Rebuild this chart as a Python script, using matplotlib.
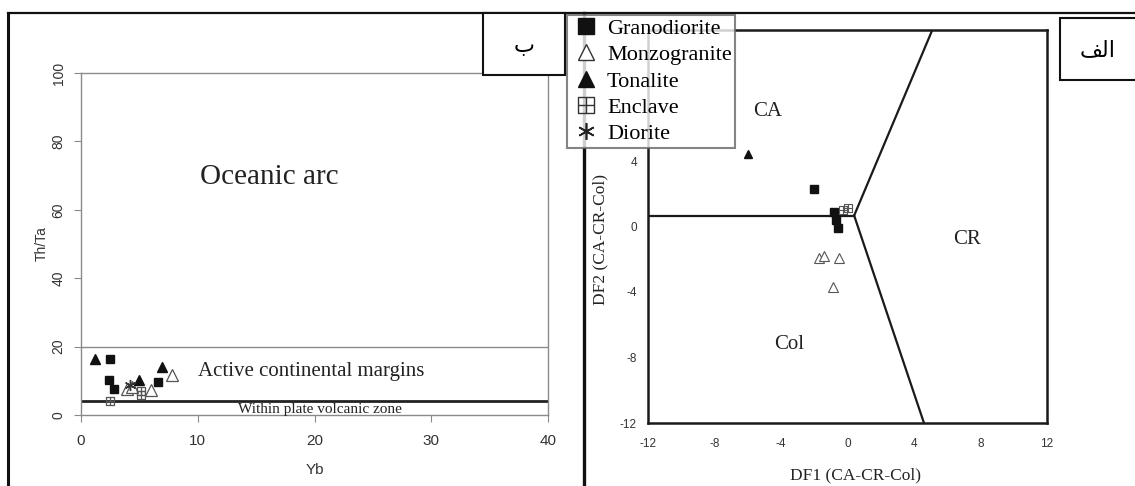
import numpy as np
import matplotlib.pyplot as plt
from matplotlib.lines import Line2D
from matplotlib.patches import Rectangle
from matplotlib.path import Path

# panel "ب": Th/Ta vs Yb
yb_grano = [2.5, 2.4, 2.8, 6.6]
thta_grano = [16.3, 10.2, 7.5, 9.6]
yb_monzo = [7.8, 3.9, 4.4, 6.0]
thta_monzo = [11.7, 7.5, 8.2, 7.3]
yb_tona = [1.2, 6.9, 5.0]
thta_tona = [16.3, 13.9, 10.2]
yb_encl = [2.5, 5.1, 5.1]
thta_encl = [4.1, 5.8, 7.0]
yb_dior = [4.2]
thta_dior = [8.8]

# panel "الف": DF1 vs DF2
df1_grano = [-2.0, -0.8, -0.7, -0.6]
df2_grano = [2.3, 0.9, 0.4, -0.1]
df1_monzo = [-1.7, -1.4, -0.5, -0.9]
df2_monzo = [-1.9, -1.8, -1.9, -3.7]
df1_tona = [-6.0]
df2_tona = [4.4]
df1_encl = [-0.25, 0.05]
df2_encl = [1.0, 1.15]

# field boundaries
thta_ocean_line = 20
thta_wpvz_line = 4
junction = (0.4, 0.67)
ca_cr_end = (5.1, 12)
col_cr_end = (4.6, -12)
ca_col_start = (-12, 0.67)

labels = ['Granodiorite', 'Monzogranite', 'Tonalite', 'Enclave', 'Diorite']
df1_ticks = [-12, -8, -4, 0, 4, 8, 12]
df2_ticks = [-12, -8, -4, 0, 4]   # 8 and 12 sit under the legend

plt.rcParams['axes.unicode_minus'] = False

W, H = 1135, 486
serif = 'Liberation Serif'
sans = 'Liberation Sans'

# square with a cross inside
enclave = Path([(-1, -1), (1, -1), (1, 1), (-1, 1), (-1, -1), (0, -1), (0, 1), (-1, 0), (1, 0)],
               [Path.MOVETO, Path.LINETO, Path.LINETO, Path.LINETO, Path.CLOSEPOLY,
                Path.MOVETO, Path.LINETO, Path.MOVETO, Path.LINETO])
asterisk = (6, 2, 0)

fig = plt.figure(figsize=(W / 100, H / 100), dpi=100)

# ---- left panel
ax1 = fig.add_axes([81 / W, 1 - 415 / H, 467 / W, 342 / H])
ax1.set_xlim(0, 40)
ax1.set_ylim(0, 100)
ax1.set_xticks([0, 10, 20, 30, 40])
ax1.set_yticks([0, 20, 40, 60, 80, 100])
for s in ax1.spines.values():
    s.set_color('#8a8a8a')
    s.set_linewidth(1)
ax1.tick_params(direction='out', length=5, color='#8a8a8a', labelcolor='#333333')
ax1.tick_params(axis='x', pad=9, labelsize=11)
ax1.tick_params(axis='y', pad=6, labelsize=10)
for t in ax1.get_yticklabels():
    t.set_rotation(90)
    t.set_va('center')
for t in ax1.get_xticklabels() + ax1.get_yticklabels():
    t.set_family(sans)
ax1.set_xlabel('Yb', family=sans, fontsize=11, color='#333333')
ax1.set_ylabel('Th/Ta', family=sans, fontsize=10, color='#333333')
ax1.xaxis.set_label_coords(0.5, -0.14)
ax1.yaxis.set_label_coords(-0.07, 0.5)

ax1.axhline(thta_ocean_line, color='#8a8a8a', lw=1)
ax1.axhline(thta_wpvz_line, color='#222222', lw=2)
ax1.text(16.1, 69.6, 'Oceanic arc', family=serif, fontsize=21, ha='center', va='center', color='#222222')
ax1.text(10.0, 12.8, 'Active continental margins', family=serif, fontsize=15, ha='left', va='center', color='#222222')
ax1.text(20.5, 1.5, 'Within plate volcanic zone', family=serif, fontsize=11, ha='center', va='center', color='#222222')

ax1.plot(yb_grano, thta_grano, ls='none', marker='s', ms=6, color='#111111')
ax1.plot(yb_monzo, thta_monzo, ls='none', marker='^', ms=8, mfc='white', mec='#555555', mew=0.9)
ax1.plot(yb_tona, thta_tona, ls='none', marker='^', ms=7, color='#111111')
ax1.plot(yb_encl, thta_encl, ls='none', marker=enclave, ms=6, mfc='none', mec='#555555', mew=0.9)
ax1.plot(yb_dior, thta_dior, ls='none', marker=asterisk, ms=8, mec='#333333', mew=1)

# ---- right panel
ax2 = fig.add_axes([648 / W, 1 - 423 / H, 399 / W, 393 / H])
ax2.set_xlim(-12, 12)
ax2.set_ylim(-12, 12)
ax2.set_xticks(df1_ticks)
ax2.set_yticks(df2_ticks)
for s in ax2.spines.values():
    s.set_color('#1a1a1a')
    s.set_linewidth(1.8)
ax2.tick_params(length=0, labelsize=8.5, labelcolor='#333333')
ax2.tick_params(axis='x', pad=11)
ax2.tick_params(axis='y', pad=8)
for t in ax2.get_xticklabels() + ax2.get_yticklabels():
    t.set_family(sans)
ax2.set_xlabel('DF1 (CA-CR-Col)', family=serif, fontsize=12.5, color='#222222')
ax2.set_ylabel('DF2 (CA-CR-Col)', family=serif, fontsize=12.5, color='#222222')
ax2.xaxis.set_label_coords(0.52, -0.112)
ax2.yaxis.set_label_coords(-0.1, 0.466)

ax2.plot([ca_col_start[0], junction[0]], [ca_col_start[1], junction[1]], color='#1a1a1a', lw=1.6)
ax2.plot([junction[0], ca_cr_end[0]], [junction[1], ca_cr_end[1]], color='#1a1a1a', lw=1.6)
ax2.plot([junction[0], col_cr_end[0]], [junction[1], col_cr_end[1]], color='#1a1a1a', lw=1.6)
ax2.text(-4.8, 7.0, 'CA', family=serif, fontsize=15, ha='center', va='center', color='#222222')
ax2.text(7.2, -0.8, 'CR', family=serif, fontsize=15, ha='center', va='center', color='#222222')
ax2.text(-3.5, -7.2, 'Col', family=serif, fontsize=15, ha='center', va='center', color='#222222')

ax2.plot(df1_grano, df2_grano, ls='none', marker='s', ms=6, color='#111111')
ax2.plot(df1_monzo, df2_monzo, ls='none', marker='^', ms=7, mfc='white', mec='#555555', mew=0.8)
ax2.plot(df1_tona, df2_tona, ls='none', marker='^', ms=6, color='#111111')
ax2.plot(df1_encl, df2_encl, ls='none', marker=enclave, ms=6, mfc='none', mec='#555555', mew=0.8)

# ---- legend
handles = [
    Line2D([], [], ls='none', marker='s', ms=11, color='#111111'),
    Line2D([], [], ls='none', marker='^', ms=12, mfc='white', mec='#333333', mew=1),
    Line2D([], [], ls='none', marker='^', ms=12, color='#111111'),
    Line2D([], [], ls='none', marker=enclave, ms=11, mfc='none', mec='#333333', mew=1),
    Line2D([], [], ls='none', marker=asterisk, ms=12, mec='#222222', mew=1.2),
]
leg = fig.legend(handles, labels, loc='upper left', bbox_to_anchor=(567 / W, 1 - 15 / H),
                 prop={'family': serif, 'size': 16}, frameon=True, fancybox=False,
                 borderaxespad=0, borderpad=0.15, labelspacing=0.26, handlelength=1.4,
                 handletextpad=0.25)
leg.get_frame().set_edgecolor('#666666')
leg.get_frame().set_linewidth(1.5)
leg.set_zorder(10)

# ---- outer frames and panel tags
kw = dict(transform=fig.transFigure, color='#111111', zorder=2)
fig.add_artist(Line2D([8 / W, 1], [1 - 13 / H, 1 - 13 / H], lw=1.6, **kw))
fig.add_artist(Line2D([8 / W, 8 / W], [1 - 13 / H, 0], lw=2.2, **kw))
fig.add_artist(Line2D([584 / W, 584 / W], [1 - 13 / H, 0], lw=2.4, **kw))

fig.add_artist(Rectangle((483 / W, 1 - 75 / H), 82 / W, 62 / H, transform=fig.transFigure,
                         fc='white', ec='#111111', lw=1.5, zorder=3))
fig.text(524 / W, 1 - 46 / H, 'ب', family='DejaVu Sans', fontsize=16, ha='center', va='center', zorder=4)
fig.add_artist(Rectangle((1060 / W, 1 - 80 / H), 90 / W, 62 / H, transform=fig.transFigure,
                         fc='white', ec='#111111', lw=1.5, zorder=3))
fig.text(1098 / W, 1 - 50 / H, '\ufed2\ufedf\ufe8d', family='DejaVu Sans', fontsize=16,
         ha='center', va='center', zorder=4)

fig.savefig('out.png', dpi=100)
